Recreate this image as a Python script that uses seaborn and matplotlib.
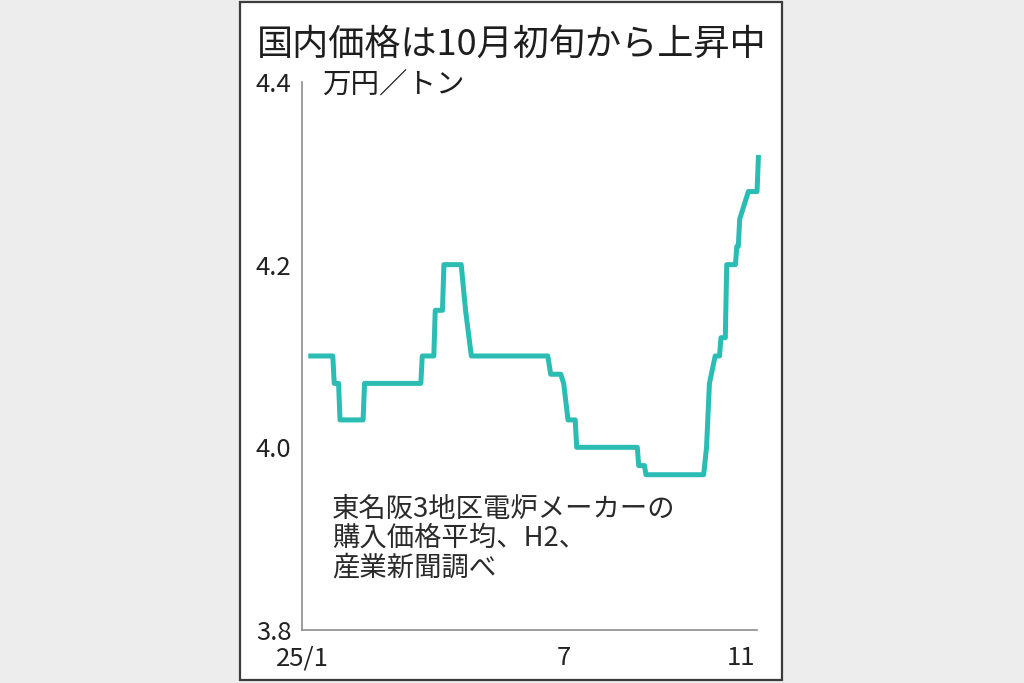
import matplotlib
matplotlib.use("Agg")
import matplotlib.pyplot as plt
from matplotlib.patches import Rectangle
import pandas as pd
import seaborn as sns

# ---- data ----
dates = [
    "2025-01-05", "2025-01-22", "2025-01-23", "2025-01-26", "2025-01-27",
    "2025-02-12", "2025-02-13", "2025-03-24", "2025-03-25", "2025-04-02",
    "2025-04-03", "2025-04-08", "2025-04-09", "2025-04-21", "2025-04-24",
    "2025-04-28", "2025-06-20", "2025-06-22", "2025-06-29", "2025-07-01",
    "2025-07-04", "2025-07-09", "2025-07-10", "2025-08-21", "2025-08-22",
    "2025-08-26", "2025-08-27", "2025-10-06", "2025-10-08", "2025-10-10",
    "2025-10-14", "2025-10-17", "2025-10-18", "2025-10-21", "2025-10-22",
    "2025-10-28", "2025-10-29", "2025-10-30", "2025-10-31", "2025-11-06",
    "2025-11-12", "2025-11-13",
]
prices = [
    4.10, 4.10, 4.07, 4.07, 4.03,
    4.03, 4.07, 4.07, 4.10, 4.10,
    4.15, 4.15, 4.20, 4.20, 4.15,
    4.10, 4.10, 4.08, 4.08, 4.07,
    4.03, 4.03, 4.00, 4.00, 3.98,
    3.98, 3.97, 3.97, 4.00, 4.07,
    4.10, 4.10, 4.12, 4.12, 4.20,
    4.20, 4.22, 4.22, 4.25, 4.28,
    4.28, 4.32,
]
month_ticks = ["2025-01-01", "2025-02-01", "2025-03-01", "2025-04-01", "2025-05-01",
               "2025-06-01", "2025-07-01", "2025-08-01", "2025-09-01", "2025-10-01",
               "2025-11-01"]
month_labels = ["25/1", "", "", "", "", "", "7", "", "", "", "11"]
y_ticks = [3.8, 4.0, 4.2, 4.4]
y_labels = ["3.8", "4.0", "4.2", "4.4"]
title = "国内価格は10月初旬から上昇中"
unit = "万円／トン"
note = "東名阪3地区電炉メーカーの\n購入価格平均、H2、\n産業新聞調べ"

# ---- style ----
sns.set_theme(style="white")
plt.rcParams["font.family"] = ["Noto Sans CJK JP", "DejaVu Sans"]

df = pd.DataFrame({"date": pd.to_datetime(dates), "price": prices})

fig = plt.figure(figsize=(10.24, 6.83), dpi=100)
fig.patch.set_facecolor("#ededed")
fig.add_artist(Rectangle((0.2344, 0.0044), 0.5293, 0.9927, transform=fig.transFigure,
                         facecolor="white", edgecolor="#3c3c3c", linewidth=1.6, zorder=0))

ax = fig.add_axes([0.2954, 0.0776, 0.4439, 0.8024])
ax.set_facecolor("none")

sns.lineplot(data=df, x="date", y="price", ax=ax, estimator=None, sort=False,
             color="#2bbcb4", linewidth=3.6, solid_capstyle="butt", clip_on=False)

ax.set_xlim(pd.Timestamp("2025-01-01"), pd.Timestamp("2025-11-12"))
ax.set_ylim(3.8, 4.4)
ax.set_xticks(pd.to_datetime(month_ticks))
ax.set_xticklabels(month_labels)
ax.set_yticks(y_ticks)
ax.set_yticklabels(y_labels)
ax.set_xlabel("")
ax.set_ylabel("")

for s in ["top", "right"]:
    ax.spines[s].set_visible(False)
for s in ["left", "bottom"]:
    ax.spines[s].set_color("#8c8c8c")
    ax.spines[s].set_linewidth(1.2)

ax.tick_params(axis="both", direction="in", length=3.5, width=1.0, color="#8c8c8c",
               labelsize=18.5, labelcolor="#222222")
ax.tick_params(axis="x", pad=11)
ax.tick_params(axis="y", pad=8)

fig.text(0.4995, 0.934, title, ha="center", va="center", fontsize=26, color="#1e1e1e")
fig.text(0.3145, 0.876, unit, ha="left", va="center", fontsize=20.5, color="#1e1e1e")
fig.text(0.324, 0.274, note, ha="left", va="top", fontsize=19.7, color="#2a2a2a",
         linespacing=1.1)

fig.savefig("out.png", dpi=100, facecolor=fig.get_facecolor())
